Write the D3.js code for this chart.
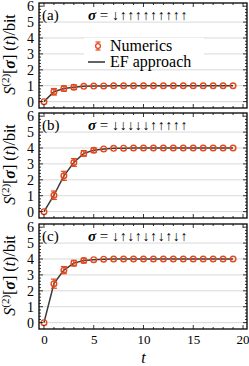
<!DOCTYPE html>
<html>
<head>
<meta charset="utf-8">
<script src="https://cdn.jsdelivr.net/npm/d3@7"></script>
<style>
  body { margin: 0; background: #fff; }
</style>
</head>
<body>
<div id="chart"></div>
<script>
// --- data ---
const times = d3.range(0, 20);
const panelLabels = ["(a)", "(b)", "(c)"];
const spinConfigs = ["↓↑↑↑↑↑↑↑↑↑", "↓↓↓↓↓↑↑↑↑↑", "↓↑↓↑↓↑↓↑↓↑"];
const valuesA = [0, 0.62, 0.82, 0.91, 0.96, 0.98, 0.99, 1, 1, 1, 1, 1, 1, 1, 1, 1, 1, 1, 1, 1];
const valuesB = [0, 1.03, 2.25, 3.09, 3.66, 3.86, 3.94, 3.98, 3.99, 4, 4, 4, 4, 4, 4, 4, 4, 4, 4, 4];
const valuesC = [0, 2.45, 3.3, 3.74, 3.9, 3.96, 3.99, 4, 4, 4, 4, 4, 4, 4, 4, 4, 4, 4, 4, 4];
const errorsA = [0, 0.08, 0.04, 0.02, 0, 0, 0, 0, 0, 0, 0, 0, 0, 0, 0, 0, 0, 0, 0, 0];
const errorsB = [0, 0.14, 0.16, 0.12, 0.05, 0.02, 0, 0, 0, 0, 0, 0, 0, 0, 0, 0, 0, 0, 0, 0];
const errorsC = [0, 0.16, 0.1, 0.05, 0.02, 0, 0, 0, 0, 0, 0, 0, 0, 0, 0, 0, 0, 0, 0, 0];
const xTicks = [0, 5, 10, 15, 20];
const yTicks = [0, 1, 2, 3, 4, 5, 6];

const panels = [
  {values: valuesA, errors: errorsA},
  {values: valuesB, errors: errorsB},
  {values: valuesC, errors: errorsC}
];

const width = 249, height = 366;
const left = 39, right = 247;
const panelH = 105, panelTops = [3, 113, 224];
const orange = "#e4491c", lineColor = "#3a3a3a";

const svg = d3.select("#chart").append("svg")
  .attr("width", width).attr("height", height);

const x = d3.scaleLinear().domain([-0.5, 20.4]).range([left, right]);

panels.forEach((p, i) => {
  const top = panelTops[i];
  const y = d3.scaleLinear().domain([-0.4, 6.2]).range([top + panelH, top]);
  const g = svg.append("g");

  // grid
  g.append("g").selectAll("line").data(yTicks.slice(0, 6)).join("line")
    .attr("x1", left).attr("x2", right)
    .attr("y1", d => y(d)).attr("y2", d => y(d))
    .attr("stroke", "#d9d9d9").attr("stroke-width", 1);

  // legend (panel a only) drawn before data
  if (i === 0) {
    g.append("rect").attr("x", 84).attr("y", 38).attr("width", 120).attr("height", 29).attr("fill", "#fff");
    const lg = g.append("g");
    const lx = 98, ly1 = 46, ly2 = 62;
    lg.append("line").attr("x1", lx).attr("x2", lx).attr("y1", ly1 - 4).attr("y2", ly1 + 4)
      .attr("stroke", orange).attr("stroke-width", 1.2);
    lg.append("line").attr("x1", lx - 2.5).attr("x2", lx + 2.5).attr("y1", ly1 - 4).attr("y2", ly1 - 4)
      .attr("stroke", orange).attr("stroke-width", 1.2);
    lg.append("line").attr("x1", lx - 2.5).attr("x2", lx + 2.5).attr("y1", ly1 + 4).attr("y2", ly1 + 4)
      .attr("stroke", orange).attr("stroke-width", 1.2);
    lg.append("circle").attr("cx", lx).attr("cy", ly1).attr("r", 2.4)
      .attr("fill", "#fff").attr("stroke", orange).attr("stroke-width", 1.3);
    lg.append("text").attr("x", 110).attr("y", ly1 + 5).attr("font-size", 16).text("Numerics");
    lg.append("line").attr("x1", 88).attr("x2", 105).attr("y1", ly2).attr("y2", ly2)
      .attr("stroke", lineColor).attr("stroke-width", 1.6);
    lg.append("text").attr("x", 110).attr("y", ly2 + 5).attr("font-size", 16).text("EF approach");
  }

  const pts = times.map((t, k) => ({t, v: p.values[k], e: p.errors[k]}));

  // line
  g.append("path").datum(pts)
    .attr("fill", "none").attr("stroke", lineColor).attr("stroke-width", 1.5)
    .attr("d", d3.line().x(d => x(d.t)).y(d => y(d.v)));

  // error bars
  const eb = g.append("g").attr("stroke", orange).attr("stroke-width", 1.2)
    .selectAll("g").data(pts.filter(d => d.e > 0)).join("g");
  eb.append("line").attr("x1", d => x(d.t)).attr("x2", d => x(d.t))
    .attr("y1", d => y(d.v - d.e) + 2).attr("y2", d => y(d.v + d.e) - 2);
  eb.append("line").attr("x1", d => x(d.t) - 3).attr("x2", d => x(d.t) + 3)
    .attr("y1", d => y(d.v + d.e) - 2).attr("y2", d => y(d.v + d.e) - 2);
  eb.append("line").attr("x1", d => x(d.t) - 3).attr("x2", d => x(d.t) + 3)
    .attr("y1", d => y(d.v - d.e) + 2).attr("y2", d => y(d.v - d.e) + 2);

  // markers
  g.append("g").selectAll("circle").data(pts).join("circle")
    .attr("cx", d => x(d.t)).attr("cy", d => y(d.v)).attr("r", 2.8)
    .attr("fill", "none").attr("stroke", orange).attr("stroke-width", 1.4);

  // frame
  g.append("rect").attr("x", left).attr("y", top).attr("width", right - left).attr("height", panelH)
    .attr("fill", "none").attr("stroke", "#000").attr("stroke-width", 1.3);

  // ticks (inward)
  const tg = g.append("g").attr("stroke", "#000").attr("stroke-width", 0.8);
  const xMinor = d3.range(0, 21);
  [top + panelH, top].forEach((yy, s) => {
    const dir = s === 0 ? -1 : 1;
    tg.append("g").selectAll("line").data(xMinor).join("line")
      .attr("x1", d => x(d)).attr("x2", d => x(d))
      .attr("y1", yy).attr("y2", d => yy + dir * (d % 5 === 0 ? 4 : 2));
  });
  const yMinor = d3.range(0, 31).map(d => d / 5);
  [left, right].forEach((xx, s) => {
    const dir = s === 0 ? 1 : -1;
    tg.append("g").selectAll("line").data(yMinor).join("line")
      .attr("y1", d => y(d)).attr("y2", d => y(d))
      .attr("x1", xx).attr("x2", d => xx + dir * (Math.abs(d - Math.round(d)) < 1e-6 ? 4 : 2));
  });

  // y axis labels
  const yAxis = d3.axisLeft(y).tickValues(yTicks).tickSize(0).tickPadding(5).tickFormat(d3.format("d"));
  g.append("g").attr("transform", `translate(${left},0)`).call(yAxis)
    .attr("font-size", 14)
    .call(a => a.select(".domain").remove());

  // x axis labels for bottom panel
  if (i === 2) {
    const xAxis = d3.axisBottom(x).tickValues(xTicks).tickSize(0).tickPadding(6);
    g.append("g").attr("transform", `translate(0,${top + panelH})`).call(xAxis)
      .attr("font-size", 13)
      .call(a => a.select(".domain").remove())
      .call(a => a.selectAll(".tick:last-of-type text").attr("text-anchor", "end").attr("dx", 6));
    svg.append("text").attr("x", x(10)).attr("y", 363).attr("text-anchor", "middle")
      .attr("font-size", 16).attr("font-style", "italic").text("t");
  }

  // panel label and configuration
  g.append("text").attr("x", 42).attr("y", top + 17).attr("font-size", 15).text(panelLabels[i]);
  const cfg = g.append("text").attr("x", 88).attr("y", top + 17).attr("font-size", 15);
  cfg.append("tspan").attr("font-weight", "bold").attr("font-style", "italic").text("σ");
  cfg.append("tspan").text(" = ");
  cfg.append("tspan").attr("font-size", 14).attr("letter-spacing", 0.6).text(spinConfigs[i]);

  // y label
  const yl = svg.append("text")
    .attr("transform", `translate(15,${top + panelH / 2 - 1}) rotate(-90)`)
    .attr("text-anchor", "middle").attr("font-size", 16);
  yl.append("tspan").attr("font-style", "italic").text("S");
  yl.append("tspan").attr("font-size", 11).attr("dy", -6).text("(2)");
  yl.append("tspan").attr("dy", 6).text("[");
  yl.append("tspan").attr("font-weight", "bold").attr("font-style", "italic").text("σ");
  yl.append("tspan").text("] (");
  yl.append("tspan").attr("font-style", "italic").text("t");
  yl.append("tspan").text(")/bit");
});

// serif everywhere
svg.selectAll("text").style("font-family", '"Liberation Serif"').attr("fill", "#000");
</script>
</body>
</html>
